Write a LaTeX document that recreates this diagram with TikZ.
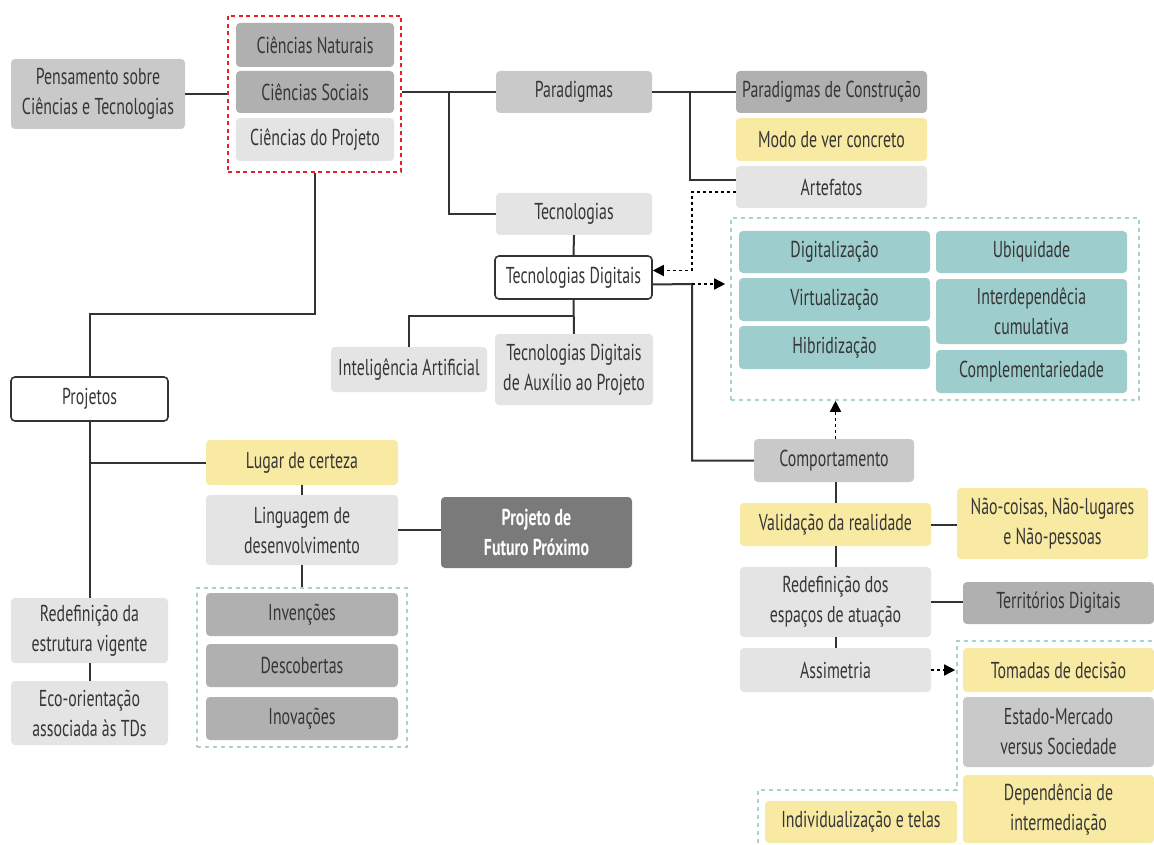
\documentclass[tikz,border=0pt]{standalone}
\usepackage{fontspec}
\setmainfont{PT Sans}[FakeStretch=0.69]
\usetikzlibrary{arrows.meta}

\definecolor{txt}{HTML}{363636}
\definecolor{lnk}{HTML}{333333}
\definecolor{glight}{HTML}{E4E4E4}
\definecolor{gmid}{HTML}{C9C9C9}
\definecolor{gdeep}{HTML}{B0B0B0}
\definecolor{gdark}{HTML}{7A7A7A}
\definecolor{yel}{HTML}{F8EAA2}
\definecolor{teal}{HTML}{9DCDCC}
\definecolor{tealdash}{HTML}{A6D3D2}
\definecolor{reddash}{HTML}{E8202A}

\tikzset{
  box/.style={rounded corners=4pt, inner sep=0pt, align=center, text=txt,
    font=\fontsize{23}{30}\selectfont},
  wbox/.style={fill=white, draw=lnk, line width=1.6pt},
  conn/.style={draw=lnk, line width=2pt},
  dotarrow/.style={draw=black, line width=1.6pt, dash pattern=on 3pt off 3pt,
    -{Triangle[length=11pt,width=11pt]}},
  tealframe/.style={draw=tealdash, line width=1.6pt, dash pattern=on 4pt off 4pt},
  redframe/.style={draw=reddash, line width=2pt, dash pattern=on 4pt off 3.5pt},
}

% \bx{name}{left}{top}{right}{bottom}{style}{text}, in pixel units
\newcommand\bx[7]{%
  \node[box, #6, minimum width={#4-#2}, minimum height={#5-#3}]
    (#1) at ({(#2+#4)/2},{(#3+#5)/2}) {#7};}

\begin{document}
\begin{tikzpicture}[x=1pt, y=-1pt]
\fill[white] (0,0) rectangle (1154,845);
\useasboundingbox (0,0) rectangle (1154,845);

% ---- sciences group ----
\node[redframe, minimum width=173, minimum height=156, inner sep=0pt]
  (red) at (314.5,94) {};
\bx{pens}{11}{59}{185}{129}{fill=gmid}{Pensamento sobre\\Ciências e Tecnologias}
\bx{cnat}{236}{23}{394}{67}{fill=gdeep}{Ciências Naturais}
\bx{csoc}{236}{71}{394}{113}{fill=gdeep}{Ciências Sociais}
\bx{cproj}{236}{118}{394}{161}{fill=glight}{Ciências do Projeto}

% ---- paradigms & technologies ----
\bx{para}{496}{71}{652}{113}{fill=gmid}{Paradigmas}
\bx{tec}{496}{193}{652}{235}{fill=glight}{Tecnologias}
\bx{td}{495}{256}{652}{299}{wbox}{Tecnologias Digitais}
\bx{ia}{331}{347}{487}{392}{fill=glight}{Inteligência Artificial}
\bx{tdap}{495}{334}{653}{405}{fill=glight}{Tecnologias Digitais\\de Auxílio ao Projeto}

\bx{pc}{736}{71}{927}{113}{fill=gdeep}{Paradigmas de Construção}
\bx{mvc}{736}{118}{927}{161}{fill=yel}{Modo de ver concreto}
\bx{art}{736}{166}{927}{208}{fill=glight}{Artefatos}

% ---- characteristics of digital technologies ----
\node[tealframe, minimum width=408, minimum height=182, inner sep=0pt]
  (tframe) at (935,309) {};
\bx{dig}{739}{231}{930}{273}{fill=teal}{Digitalização}
\bx{vir}{739}{278}{930}{321}{fill=teal}{Virtualização}
\bx{hib}{739}{326}{930}{369}{fill=teal}{Hibridização}
\bx{ubi}{936}{231}{1127}{273}{fill=teal}{Ubiquidade}
\bx{inter}{936}{279}{1127}{344}{fill=teal}{Interdependêcia\\cumulativa}
\bx{compl}{936}{350}{1127}{393}{fill=teal}{Complementariedade}

% ---- behaviour branch ----
\bx{comp}{754}{439}{914}{482}{fill=gmid}{Comportamento}
\bx{val}{740}{503}{931}{546}{fill=yel}{Validação da realidade}
\bx{ncoi}{957}{488}{1148}{559}{fill=yel}{Não-coisas, Não-lugares\\e Não-pessoas}
\bx{redesp}{740}{567}{931}{637}{fill=glight}{Redefinição dos\\espaços de atuação}
\bx{terr}{963}{582}{1154}{624}{fill=gdeep}{Territórios Digitais}
\bx{assim}{740}{648}{931}{692}{fill=glight}{Assimetria}
\bx{tom}{963}{648}{1154}{692}{fill=yel}{Tomadas de decisão}
\bx{est}{963}{697}{1154}{767}{fill=gmid}{Estado-Mercado\\versus Sociedade}
\bx{dep}{963}{775}{1154}{843}{fill=yel}{Dependência de\\intermediação}
\bx{indiv}{765}{801}{957}{843}{fill=yel}{Individualização e telas}
\draw[tealframe] (1160,641) -- (957,641) -- (957,790) -- (758,790) -- (758,850);

% ---- projects branch ----
\bx{proj}{11}{377}{168}{421}{wbox}{Projetos}
\bx{lug}{206}{440}{398}{485}{fill=yel}{Lugar de certeza}
\bx{ling}{206}{495}{398}{565}{fill=glight}{Linguagem de\\desenvolvimento}
\bx{pfp}{441}{497}{632}{568}{fill=gdark, text=white, font=\fontsize{23}{30}\selectfont\bfseries}{Projeto de\\Futuro Próximo}
\node[tealframe, minimum width=210, minimum height=159, inner sep=0pt]
  (lframe) at (302,667.5) {};
\bx{inv}{206}{593}{398}{636}{fill=gdeep}{Invenções}
\bx{desc}{206}{644}{398}{687}{fill=gdeep}{Descobertas}
\bx{inov}{206}{697}{398}{740}{fill=gdeep}{Inovações}
\bx{redest}{11}{598}{168}{663}{fill=glight}{Redefinição da\\estrutura vigente}
\bx{eco}{11}{681}{168}{745}{fill=glight}{Eco-orientação\\associada às TDs}

% ---- connectors ----
\coordinate (j1) at (449,92);
\coordinate (j2) at (690,92);
\coordinate (j3) at (692,284);

\draw[conn] (pens.east) -- (pens.east -| red.west);
\draw[conn] (red.east |- para.west) -- (para.west);
\draw[conn] (j1) |- (tec.west);
\draw[conn] (tec.south) -- (td.north);
\draw[conn] (para.east) -- (pc.west);
\draw[conn] (j2) |- ([yshift=7pt]art.west);
\draw[conn] (td.south) -- (tdap.north);
\draw[conn] (td.south |- 0,316) -| (ia.north);
\draw[conn] ([yshift=-7pt]td.east) -- (j3) |- (comp.west);
\draw[conn] (comp.south -| val.north) -- (val.north);
\draw[conn] (val.south) -- (redesp.north);
\draw[conn] (redesp.south) -- (assim.north);
\draw[conn] (val.east) -- (val.east -| ncoi.west);
\draw[conn] (redesp.east) -- (redesp.east -| terr.west);

\draw[conn] (red.south) -- ++(0,141) -| (proj.north);
\draw[conn] (proj.south) -- (redest.north);
\draw[conn] (proj.south |- lug.west) -- (lug.west);
\draw[conn] (redest.south) -- (eco.north);
\draw[conn] (lug.south) -- (ling.north);
\draw[conn] (ling.east) -- (ling.east -| pfp.west);
\draw[conn] (ling.south) -- (lframe.north);

% ---- dotted arrows ----
\draw[dotarrow] ([yshift=-5pt]art.west) -- ++(-44,0) |- ([yshift=7pt]td.east);
\draw[dotarrow] (j3) -- ([xshift=-5pt]tframe.west |- j3);
\draw[dotarrow] (comp.north -| val.north) -- (val.north |- tframe.south);
\draw[dotarrow] (assim.east) -- ++(24,0);
\end{tikzpicture}
\end{document}
